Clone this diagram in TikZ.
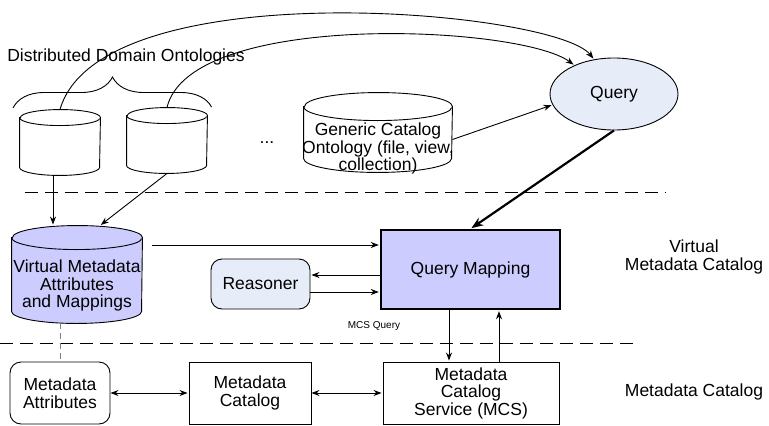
\documentclass[tikz,border=0pt]{standalone}
\usepackage{fontspec}
\setmainfont{Liberation Sans}
\usetikzlibrary{arrows.meta,shapes.geometric,decorations.pathreplacing}

\definecolor{lavender}{RGB}{204,204,255}
\definecolor{paleblue}{RGB}{230,237,248}

% cylinder drawn over a named node: #1 name, #2 x radius, #3 y radius, #4 fill
\newcommand{\drawdb}[4]{%
  \draw[-,fill=#4] ([yshift=-#3]#1.north west) -- ([yshift=#3]#1.south west)
    arc[start angle=180,end angle=360,x radius=#2,y radius=#3]
    -- ([yshift=-#3]#1.north east)
    arc[start angle=0,end angle=180,x radius=#2,y radius=#3] -- cycle;
  \draw[-] ([yshift=-#3]#1.north west) arc[start angle=180,end angle=360,x radius=#2,y radius=#3];}

\begin{document}
\begin{tikzpicture}[x=1pt,y=-1pt,->,>={Stealth[length=8pt,width=6pt]},shorten >=1pt,
  line width=0.9pt,font=\fontsize{17.5}{17.5}\selectfont,
  db node/.style={rectangle,inner sep=0pt},
  box node/.style={rectangle,draw,align=center,inner sep=0pt},
  round node/.style={rectangle,rounded corners=11pt,draw,align=center,inner sep=0pt},
  sep line/.style={-,dash pattern=on 13pt off 7pt}]

  \useasboundingbox (0,0) rectangle (769,426);

  % ontologies
  \node[db node, minimum width=80pt, minimum height=65pt] (onto1) at (60,142.5) {};
  \node[db node, minimum width=80pt, minimum height=65pt] (onto2) at (167,140.5) {};
  \node[db node, minimum width=148pt, minimum height=79pt] (generic) at (378,132.5) {};
  \drawdb{onto1}{40pt}{8pt}{white}
  \drawdb{onto2}{40pt}{8pt}{white}
  \drawdb{generic}{74pt}{14pt}{white}
  \node[align=center] (gentext) at ([yshift=-16pt]generic.center) {Generic Catalog\\Ontology (file, view,\\collection)};
  \node (dots) at (267,143) {...};
  \node[ellipse, draw, fill=paleblue, minimum width=128pt, minimum height=72pt] (query) at (614,94) {Query};
  \node (ddo) at (126,57) {Distributed Domain Ontologies};

  % virtual layer
  \node[db node, minimum width=130pt, minimum height=97pt] (vmcat) at (77,274.5) {};
  \drawdb{vmcat}{65pt}{12pt}{lavender}
  \node[align=center] (vmtext) at ([yshift=-11pt]vmcat.center) {Virtual Metadata\\Attributes\\and Mappings};
  \node[box node, fill=lavender, line width=2.4pt, minimum width=179pt, minimum height=79pt] (qmap) at (470.5,269.5) {Query Mapping};
  \node[round node, fill=paleblue, minimum width=99pt, minimum height=50pt] (reasoner) at (260.5,284) {Reasoner};
  \node[font=\fontsize{10}{12}\selectfont] (mcsq) at (374,326) {MCS Query};
  \node[align=center] (vlayer) at (694,257) {Virtual\\Metadata Catalog};

  % catalog layer
  \node[round node, minimum width=100pt, minimum height=62pt] (mattr) at (60,393) {Metadata\\Attributes};
  \node[box node, minimum width=122pt, minimum height=62pt] (mcat) at (250,393) {Metadata\\Catalog};
  \node[box node, minimum width=176pt, minimum height=62pt] (mcs) at (471,393) {Metadata\\Catalog\\Service (MCS)};
  \node (mlayer) at (694,392) {Metadata Catalog};

  \draw[sep line] (25,192) -- (667,192);
  \draw[sep line] (0,343) -- (640,343);
  \draw[-,gray,dash pattern=on 6pt off 4pt] (vmcat.south -| mattr.north) -- (mattr.north);
  \draw[-,decorate,decoration={brace,amplitude=31pt}] (13,108) -- (212,108);

  \draw (onto1.north) .. controls (100,-30) and (555,10) .. (query.120);
  \draw (onto2.north) .. controls (190,10) and (520,25) .. (query.144);
  \draw[line width=2.2pt,-{Stealth[length=12pt,width=9pt]}] (query.south) -- (qmap.north);

  \path
    ([xshift=-7pt]onto1.south) edge ([xshift=-7pt]onto1.south |- vmcat.north)
    (onto2.south) edge ([xshift=23pt]vmcat.north)
    ([xshift=10pt,yshift=24.5pt]qmap.west -| vmcat.east) edge ([yshift=24.5pt]qmap.west)
    ([yshift=9pt]reasoner.east -| qmap.west) edge ([yshift=9pt]reasoner.east)
    ([yshift=-8pt]reasoner.east) edge ([yshift=-8pt]reasoner.east -| qmap.west)
    ([xshift=-21.5pt]qmap.south) edge ([xshift=-21.5pt]qmap.south |- mcs.north)
    ([xshift=28.5pt]qmap.south |- mcs.north) edge ([xshift=28.5pt]qmap.south)
    ([yshift=-7pt]generic.east) edge (query.190)
    (mattr) edge[<->] (mcat)
    (mcat) edge[<->] (mcs);
\end{tikzpicture}
\end{document}
